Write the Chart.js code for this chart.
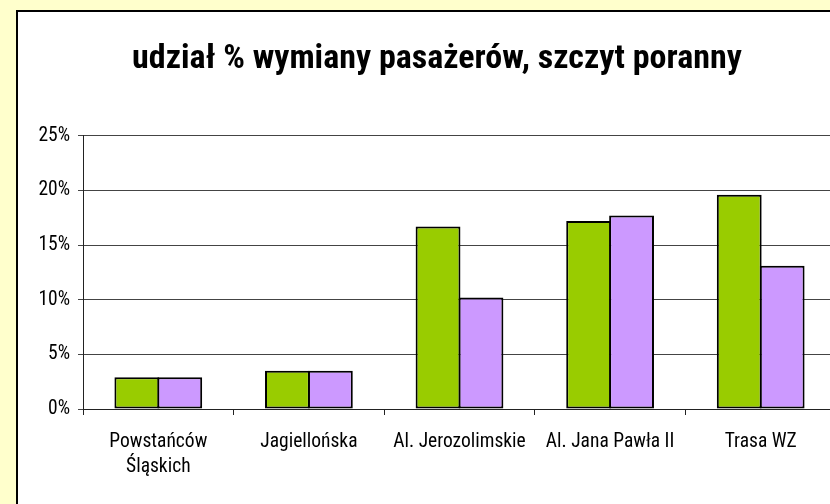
<!DOCTYPE html>
<html>
<head>
<meta charset="utf-8">
<script src="https://cdn.jsdelivr.net/npm/chart.js@4/dist/chart.umd.min.js"></script>
<style>
  html, body { margin: 0; padding: 0; background: #FFFFCC; overflow: hidden; }
  body { width: 830px; height: 504px; position: relative; }
  #box {
    position: absolute; left: 16px; top: 10px;
    width: 838px; height: 492px;
    background: #fff;
    border-left: 2px solid #000; border-top: 2px solid #000;
  }
  canvas { display: block; }
</style>
</head>
<body>
<div id="box"><canvas id="chart" width="838" height="492"></canvas></div>
<script>
// Data
const categories = [['Powstańców', 'Śląskich'], 'Jagiellońska', 'Al. Jerozolimskie', 'Al. Jana Pawła II', 'Trasa WZ'];
const series1 = [2.9, 3.5, 16.7, 17.2, 19.6];
const series2 = [2.9, 3.5, 10.2, 17.7, 13.1];
const yTicks = [0, 5, 10, 15, 20, 25];

const fontFamily = '"Roboto Condensed", "Liberation Sans", Arial, sans-serif';

document.addEventListener('DOMContentLoaded', function() {
    const ctx = document.getElementById('chart').getContext('2d');
    new Chart(ctx, {
        type: 'bar',
        data: {
            labels: categories,
            datasets: [{
                label: 'Seria1',
                data: series1,
                backgroundColor: '#99CC00',
                borderColor: '#000',
                borderWidth: 2,
                borderSkipped: false
            }, {
                label: 'Seria2',
                data: series2,
                backgroundColor: '#CC99FF',
                borderColor: '#000',
                borderWidth: 2,
                borderSkipped: false
            }]
        },
        options: {
            responsive: false,
            animation: false,
            layout: { padding: 0 },
            datasets: {
                bar: { categoryPercentage: 0.57, barPercentage: 1.045 }
            },
            plugins: {
                legend: { display: false },
                tooltip: { enabled: false },
                title: {
                    display: true,
                    text: 'udział % wymiany pasażerów, szczyt poranny',
                    color: '#000',
                    font: { family: fontFamily, size: 34, weight: 'bold', lineHeight: 1.2 },
                    padding: { top: 27, bottom: 56 }
                }
            },
            scales: {
                x: {
                    grid: {
                        offset: true,
                        drawOnChartArea: false,
                        drawTicks: true,
                        tickLength: 6,
                        color: '#222'
                    },
                    border: { display: true, color: '#222', width: 1 },
                    ticks: {
                        color: '#000',
                        font: { family: fontFamily, size: 19.5, lineHeight: 1.3 },
                        padding: 14,
                        maxRotation: 0,
                        autoSkip: false
                    },
                    afterFit: function(scale) { scale.height = 95; }
                },
                y: {
                    min: 0,
                    max: 25,
                    afterBuildTicks: function(scale) {
                        scale.ticks = yTicks.map(v => ({ value: v }));
                    },
                    grid: {
                        color: '#444',
                        tickLength: 5,
                        drawTicks: true
                    },
                    border: { display: true, color: '#222', width: 1 },
                    ticks: {
                        color: '#000',
                        font: { family: fontFamily, size: 19.5 },
                        padding: 8,
                        callback: function(value) { return value + '%'; }
                    },
                    afterFit: function(scale) { scale.width = 65; }
                },
                // empty right-hand spacer so the plot stops where the reference does
                spacer: {
                    type: 'linear',
                    position: 'right',
                    display: true,
                    grid: { display: false, drawTicks: false },
                    border: { display: false },
                    ticks: { display: false },
                    afterFit: function(scale) { scale.width = 20; }
                }
            }
        }
    });
});
</script>
</body>
</html>
